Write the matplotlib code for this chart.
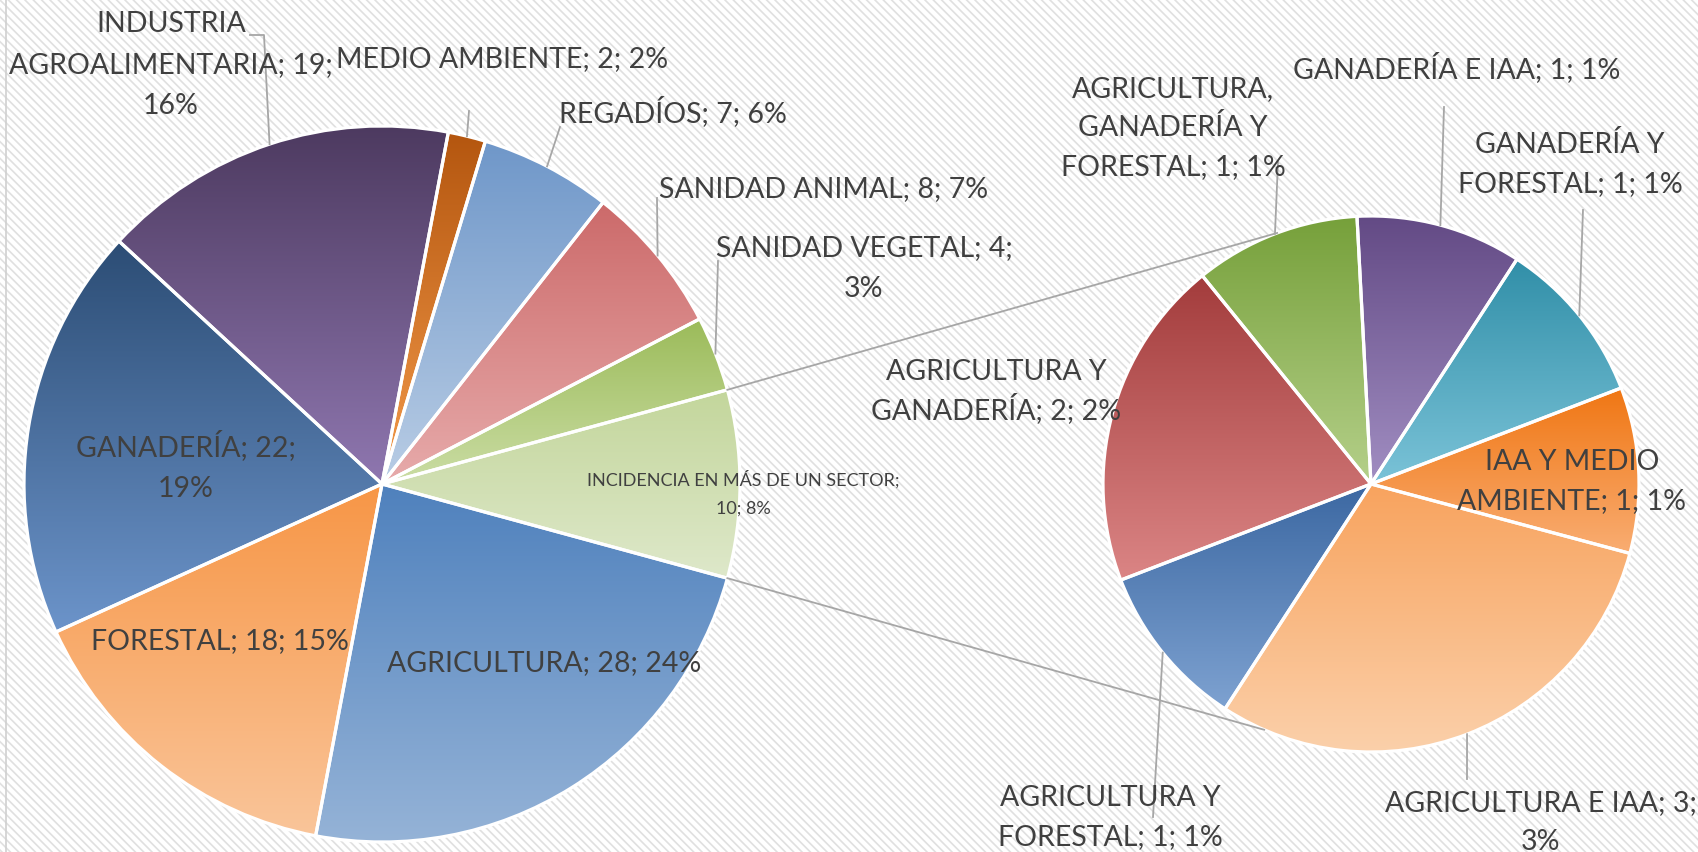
import numpy as np
import matplotlib
matplotlib.use("Agg")
import matplotlib.pyplot as plt
from matplotlib.colors import LinearSegmentedColormap
from matplotlib.patches import Rectangle

W, H = 1698, 853

# main pie, clockwise starting with the split-off slice
main_names = ["INCIDENCIA EN MÁS DE UN SECTOR", "AGRICULTURA", "FORESTAL", "GANADERÍA",
              "INDUSTRIA AGROALIMENTARIA", "MEDIO AMBIENTE", "REGADÍOS",
              "SANIDAD ANIMAL", "SANIDAD VEGETAL"]
main_values = [10, 28, 18, 22, 19, 2, 7, 8, 4]
main_labels = ["INCIDENCIA EN MÁS DE UN SECTOR;\n10; 8%", "AGRICULTURA; 28; 24%",
               "FORESTAL; 18; 15%", "GANADERÍA; 22;\n19%",
               "INDUSTRIA\nAGROALIMENTARIA; 19;\n16%", "MEDIO AMBIENTE; 2; 2%",
               "REGADÍOS; 7; 6%", "SANIDAD ANIMAL; 8; 7%", "SANIDAD VEGETAL; 4;\n3%"]

# secondary pie (breakdown of "incidencia en más de un sector")
sec_names = ["AGRICULTURA E IAA", "AGRICULTURA Y FORESTAL", "AGRICULTURA Y GANADERÍA",
             "AGRICULTURA, GANADERÍA Y FORESTAL", "GANADERÍA E IAA",
             "GANADERÍA Y FORESTAL", "IAA Y MEDIO AMBIENTE"]
sec_values = [3, 1, 2, 1, 1, 1, 1]
sec_labels = ["AGRICULTURA E IAA; 3;\n3%", "AGRICULTURA Y\nFORESTAL; 1; 1%",
              "AGRICULTURA Y\nGANADERÍA; 2; 2%", "AGRICULTURA,\nGANADERÍA Y\nFORESTAL; 1; 1%",
              "GANADERÍA E IAA; 1; 1%", "GANADERÍA Y\nFORESTAL; 1; 1%",
              "IAA Y MEDIO\nAMBIENTE; 1; 1%"]

# gradient colours (top -> bottom of each slice)
main_colors = [("#C3D69B", "#DEE8CA"), ("#4F81BD", "#95B3D7"), ("#F79646", "#FAC59A"),
               ("#2C4D75", "#6C94CA"), ("#4D3A60", "#8F77B0"), ("#B4560F", "#F39A4A"),
               ("#6F97C9", "#B9CDE5"), ("#CC6A6A", "#E7ABAB"), ("#9BBB59", "#CBDDA5")]
sec_colors = [("#F8A35E", "#FBD0AA"), ("#3C68A2", "#7EA2D1"), ("#A33C3C", "#DB8585"),
              ("#76A03A", "#B5D08A"), ("#634A85", "#A18EC2"), ("#318FA8", "#7BC3D8"),
              ("#F07613", "#F9AD72")]

# layout in pixels (y measured from the top); label pos = centre of the text block
main_c, main_r = (382, 485), 358
sec_c, sec_r = (1371, 485), 268
main_label_pos = [(743, 493), (544, 661), (220, 639), (186, 466), (171, 63),
                  (502, 57), (673, 112), (824, 187), (864, 266)]
main_leader = [None, None, None, None, [(250, 36), (264, 36)], [(469, 112)],
               [(560, 128)], [(657, 199)], [(718, 262)]]
sec_label_pos = [(1541, 820), (1110, 815), (996, 389), (1173, 126), (1457, 68),
                 (1570, 162), (1572, 479)]
sec_leader = [[(1467, 780)], [(1153, 818)], None, [(1278, 163)], [(1444, 108)],
              [(1583, 211)], None]
small_labels = {0}

plt.rcParams['font.family'] = ['Lato', 'DejaVu Sans']
plt.rcParams['hatch.linewidth'] = 1.2
txt_color = "#404040"
line_color = "#A6A6A6"

fig = plt.figure(figsize=(W / 100, H / 100), dpi=100)
ax = fig.add_axes([0, 0, 1, 1])

ax.add_patch(Rectangle((0, 0), W, H, facecolor="white", edgecolor="#E0E0E0",
                       hatch="\\\\\\\\", linewidth=0, zorder=0))
ax.plot([6, 6], [0, H], color="#D0D0D0", lw=1.2, zorder=1)


def fy(y):
    return H - y


def draw_pie(values, colors, center, radius, start):
    wedges, _ = ax.pie(values, startangle=start, counterclock=False,
                       center=(center[0], fy(center[1])), radius=radius,
                       wedgeprops=dict(edgecolor="white", linewidth=2.3))
    grad = np.linspace(0, 1, 256).reshape(-1, 1)
    for w, (c0, c1) in zip(wedges, colors):
        ext = w.get_path().get_extents()
        cmap = LinearSegmentedColormap.from_list("g", [c0, c1])
        im = ax.imshow(grad, extent=(ext.x0, ext.x1, ext.y0, ext.y1), origin="upper",
                       cmap=cmap, aspect="auto", interpolation="bilinear", zorder=2)
        im.set_clip_path(w)
        w.set_facecolor("none")
        w.set_zorder(3)
    return wedges


def edge_point(w, center, radius):
    a = np.deg2rad((w.theta1 + w.theta2) / 2)
    return center[0] + radius * np.cos(a), center[1] - radius * np.sin(a)


def put_label(text, pos, size, step):
    # one text per line so the line pitch matches the original
    lines = text.split("\n")
    y0 = pos[1] - step * (len(lines) - 1) / 2
    cap = size * 100 / 72 * 0.72
    for k, ln in enumerate(lines):
        ax.text(pos[0], fy(y0 + k * step + cap / 2), ln, ha="center", va="baseline",
                fontsize=size, color=txt_color, zorder=5)


main_w = draw_pie(main_values, main_colors, main_c, main_r, 180 * main_values[0] / sum(main_values))
sec_w = draw_pie(sec_values, sec_colors, sec_c, sec_r, -15)

# connector lines between both pies
inc = main_w[0]
for a_main, a_sec in [(inc.theta2, 110.5), (inc.theta1, -113.5)]:
    p0 = (main_c[0] + main_r * np.cos(np.deg2rad(a_main)), main_c[1] - main_r * np.sin(np.deg2rad(a_main)))
    p1 = (sec_c[0] + sec_r * np.cos(np.deg2rad(a_sec)), sec_c[1] - sec_r * np.sin(np.deg2rad(a_sec)))
    ax.plot([p0[0], p1[0]], [fy(p0[1]), fy(p1[1])], color=line_color, lw=1.3, zorder=4)

for wedges, leaders, center, radius in [(main_w, main_leader, main_c, main_r),
                                        (sec_w, sec_leader, sec_c, sec_r)]:
    for w, pts in zip(wedges, leaders):
        if pts is None:
            continue
        pts = pts + [edge_point(w, center, radius)]
        ax.plot([p[0] for p in pts], [fy(p[1]) for p in pts], color=line_color, lw=1.3, zorder=4)

for i, (lab, pos) in enumerate(zip(main_labels, main_label_pos)):
    if i in small_labels:
        put_label(lab, pos, 13, 28)
    else:
        put_label(lab, pos, 20.5, 41)
for lab, pos in zip(sec_labels, sec_label_pos):
    put_label(lab, pos, 20.5, 39)

ax.set_aspect("auto")
ax.set_xlim(0, W)
ax.set_ylim(0, H)
ax.axis("off")
fig.savefig("out.png", dpi=100)
